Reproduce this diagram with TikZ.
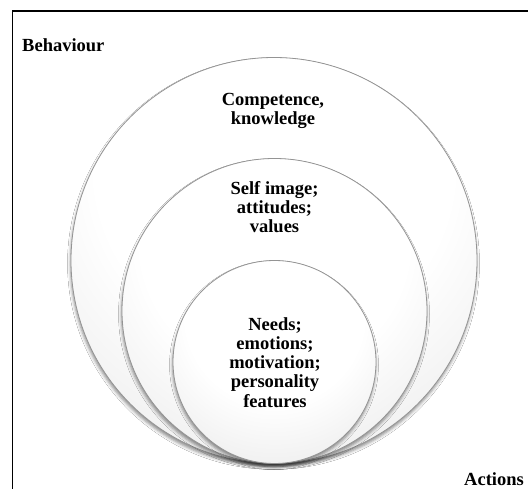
\documentclass[tikz,border=0pt]{standalone}
\usepackage{fontspec}
\setmainfont{Liberation Serif}
\usetikzlibrary{shadows.blur}
\pgfdeclareradialshading{ballgray}{\pgfpoint{0bp}{16bp}}{%
  color(0bp)=(white); color(22bp)=(white); color(44bp)=(black!10);
  color(62bp)=(black!22); color(80bp)=(black!28)}
\tikzset{
  ring/.style={circle, inner sep=0pt, draw=black!42, line width=0.8pt,
    shading=ballgray,
    blur shadow={shadow xshift=-0.5pt, shadow yshift=-3pt,
      shadow blur radius=3pt, shadow opacity=45}},
  lbl/.style={inner sep=0pt, align=center,
    font=\fontsize{18.5}{19.3}\selectfont\bfseries},
  frameline/.style={line width=1.4pt, black}
}
\begin{document}
\begin{tikzpicture}[x=1pt, y=-1pt]
\useasboundingbox (0,0) rectangle (528,489);
\fill[white] (0,0) rectangle (528,489);
% frame
\coordinate (fbl) at (12.5,489);
\coordinate (ftl) at (12.5,11);
\coordinate (ftr) at (528,11);
\draw[frameline] (fbl) -- (ftl) -- (ftr);
% circles
\node[ring, minimum size=406pt] (outer) at (274,260.5) {};
\node[ring, minimum size=305pt] (middle) at (274.5,311) {};
\node[ring, minimum size=203pt] (inner) at (274.5,362) {};
% labels
\node[lbl, anchor=north] (comp) at (273,93) {Competence,\\knowledge};
\node[lbl, anchor=north] (self) at (274.5,181) {Self image;\\attitudes;\\values};
\node[lbl, anchor=north] (needs) at (275,317) {Needs;\\emotions;\\motivation;\\personality\\features};
\node[lbl, anchor=base west] (beh) at (22,52) {Behaviour};
\node[lbl, anchor=base west] (act) at (464,485) {Actions};
\end{tikzpicture}
\end{document}
